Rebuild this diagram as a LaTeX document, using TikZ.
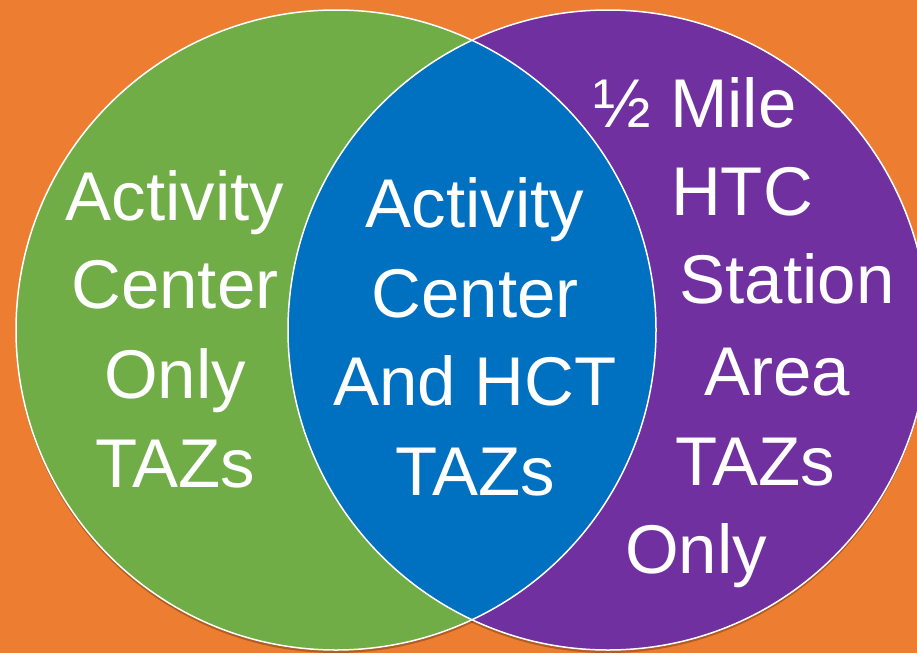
\documentclass[tikz,border=0pt]{standalone}
\usepackage{fontspec}
\setmainfont{Liberation Sans}
\definecolor{bgorange}{HTML}{ED7D31}
\definecolor{setgreen}{HTML}{70AD47}
\definecolor{setpurple}{HTML}{7030A0}
\definecolor{setblue}{HTML}{0070C0}
\begin{document}
\begin{tikzpicture}[x=1pt,y=-1pt,
    lbl/.style={text=white,font=\fontsize{69}{88}\selectfont,anchor=base,inner sep=0pt}]
		\fill[bgorange] (0,0) rectangle (917,653);
		\useasboundingbox (0,0) rectangle (917,653);
		\coordinate (g) at (336,330);
		\coordinate (p) at (608,330);
		% shadows and sets
		\fill[black,opacity=0.25] ([yshift=-3pt]g) circle[radius=320pt];
		\fill[black,opacity=0.25] ([yshift=-3pt]p) circle[radius=320pt];
		\fill[setgreen] (g) circle[radius=320pt];
		\fill[setpurple] (p) circle[radius=320pt];
		\begin{scope}
			\clip (g) circle[radius=320pt];
			\fill[setblue] (p) circle[radius=320pt];
		\end{scope}
		\draw[white,line width=1.5pt] (g) circle[radius=320pt];
		\draw[white,line width=1.5pt] (p) circle[radius=320pt];
		% labels
		\foreach \t/\y in {Activity/220,Center/308,Only/398,TAZs/487}{\node[lbl] (left\y) at (175,\y) {\t};}
		\foreach \t/\y in {Activity/227,Center/317,And HCT/405,TAZs/495}{\node[lbl] (mid\y) at (475,\y) {\t};}
		\foreach \t/\x/\y in {½ Mile/695/127,HTC/742/215,Station/787/303,Area/777/395,TAZs/755/485,Only/696/573}{\node[lbl] (right\y) at (\x,\y) {\t};}
\end{tikzpicture}
\end{document}
